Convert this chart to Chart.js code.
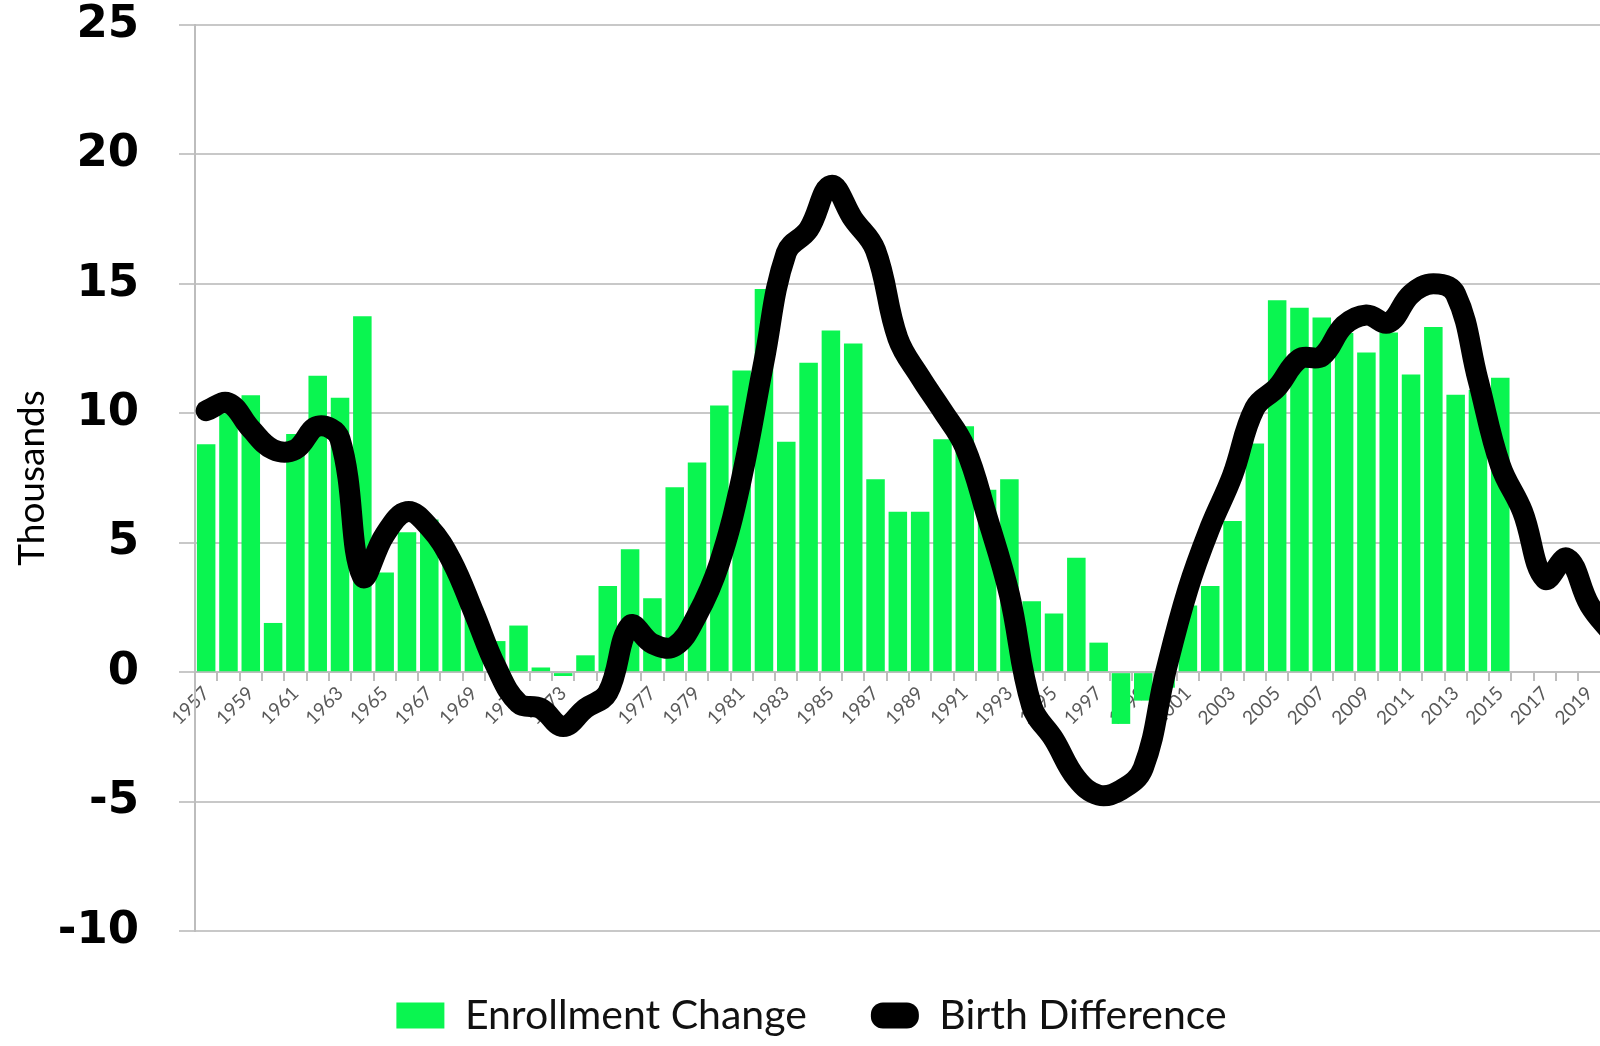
<!DOCTYPE html>
<html>
<head>
<meta charset="utf-8">
<script src="https://cdn.jsdelivr.net/npm/chart.js@4.4.1/dist/chart.umd.min.js"></script>
<style>
  html, body { margin: 0; padding: 0; background: #fff; overflow: hidden; }
  #wrap { width: 1623px; height: 1046px; }
</style>
</head>
<body>
<div id="wrap"><canvas id="chart"></canvas></div>
<script>
// years on the category axis (plot is cut off just past 2019)
const years = [];
for (let y = 1957; y <= 2020; y++) years.push(String(y));

// Enrollment Change, thousands (1957 - 2015)
const enrollmentChange = [
    8.8, 10.0, 10.7, 1.9, 9.2, 11.45, 10.6, 13.75, 3.85, 5.4,
    5.9, 4.3, 2.5, 1.2, 1.8, 0.18, -0.15, 0.65, 3.33, 4.75,
    2.85, 7.14, 8.1, 10.3, 11.65, 14.8, 8.9, 11.95, 13.2, 12.7,
    7.45, 6.2, 6.2, 9.0, 9.5, 7.05, 7.45, 2.74, 2.27, 4.42,
    1.14, -2.0, -1.1, -0.6, 2.57, 3.33, 5.84, 8.83, 14.37, 14.08,
    13.7, 13.1, 12.35, 13.12, 11.5, 13.33, 10.72, 10.9, 11.37,
    null, null, null, null, null
];

// Birth Difference, thousands (1957 - 2020)
const birthDifference = [
    10.1, 10.4, 9.4, 8.6, 8.6, 9.5, 9.0, 3.7, 5.3, 6.2,
    5.6, 4.3, 2.3, 0.2, -1.2, -1.4, -2.1, -1.4, -0.8, 1.8,
    1.1, 1.0, 2.2, 4.2, 7.5, 12.0, 16.2, 17.1, 18.8, 17.5,
    16.3, 12.9, 11.4, 10.1, 8.7, 6.0, 3.0, -1.3, -2.6, -4.1,
    -4.75, -4.55, -3.7, 0.0, 3.2, 5.6, 7.6, 10.2, 11.0, 12.1,
    12.2, 13.4, 13.8, 13.5, 14.6, 15.0, 14.6, 11.3, 8.0, 6.2,
    3.6, 4.4, 2.6, 1.5
];

const yTicks = { min: -10, max: 25, step: 5 };

const ctx = document.getElementById('chart').getContext('2d');
const myChart = new Chart(ctx, {
    type: 'bar',
    data: {
        labels: years,
        datasets: [
            {
                label: 'Enrollment Change',
                data: enrollmentChange,
                backgroundColor: '#0af550',
                borderWidth: 0,
                categoryPercentage: 1.0,
                barPercentage: 0.83,
                order: 2
            },
            {
                type: 'line',
                label: 'Birth Difference',
                data: birthDifference,
                borderColor: '#000',
                backgroundColor: '#000',
                borderWidth: 21,
                tension: 0.4,
                pointRadius: 0,
                borderCapStyle: 'round',
                borderJoinStyle: 'round',
                order: 1
            }
        ]
    },
    options: {
        responsive: true,
        maintainAspectRatio: false,
        animation: false,
        layout: { padding: 0 },
        plugins: {
            tooltip: { enabled: false },
            legend: {
                position: 'bottom',
                labels: {
                    font: { family: 'Lato', size: 41 },
                    color: '#111',
                    padding: 64,
                    boxWidth: 48,
                    boxHeight: 26,
                    sort: (a, b) => a.datasetIndex - b.datasetIndex,
                    generateLabels: (chart) => {
                        const items = Chart.defaults.plugins.legend.labels.generateLabels(chart);
                        items.forEach(item => {
                            item.lineWidth = 0;
                            item.borderRadius = item.datasetIndex === 1 ? 12 : 0;
                            if (item.datasetIndex === 1) item.fillStyle = '#000';
                        });
                        return items;
                    }
                }
            }
        },
        scales: {
            x: {
                position: { y: 0 },
                afterFit: (scale) => {
                    scale.paddingTop = 0;
                    scale.paddingBottom = 0;
                    scale.paddingLeft = 0;
                    scale.paddingRight = 0;
                },
                grid: {
                    offset: true,
                    drawOnChartArea: false,
                    drawTicks: true,
                    tickLength: 8,
                    color: '#bdbdbd',
                    lineWidth: 2
                },
                border: { color: '#bdbdbd', width: 2 },
                ticks: {
                    autoSkip: false,
                    minRotation: 45,
                    maxRotation: 45,
                    padding: 2,
                    color: '#595959',
                    font: { family: 'Lato', size: 19 },
                    callback: function (val, idx) {
                        return idx % 2 === 0 ? this.getLabelForValue(val) : '';
                    }
                }
            },
            y: {
                min: yTicks.min,
                max: yTicks.max,
                afterFit: (scale) => {
                    scale.width = 195;
                    scale.paddingTop = 25;
                    scale.paddingBottom = 25;
                },
                ticks: {
                    stepSize: yTicks.step,
                    color: '#000',
                    padding: 40,
                    font: { family: 'DejaVu Sans', size: 45, weight: 'bold', lineHeight: 1.1 }
                },
                grid: {
                    color: '#c8c8c8',
                    lineWidth: 2,
                    tickLength: 16
                },
                border: { color: '#bdbdbd', width: 2 },
                title: {
                    display: true,
                    text: 'Thousands',
                    color: '#000',
                    font: { family: 'Lato', size: 37 },
                    padding: { top: 10, bottom: 0 }
                }
            }
        }
    }
});
</script>
</body>
</html>
